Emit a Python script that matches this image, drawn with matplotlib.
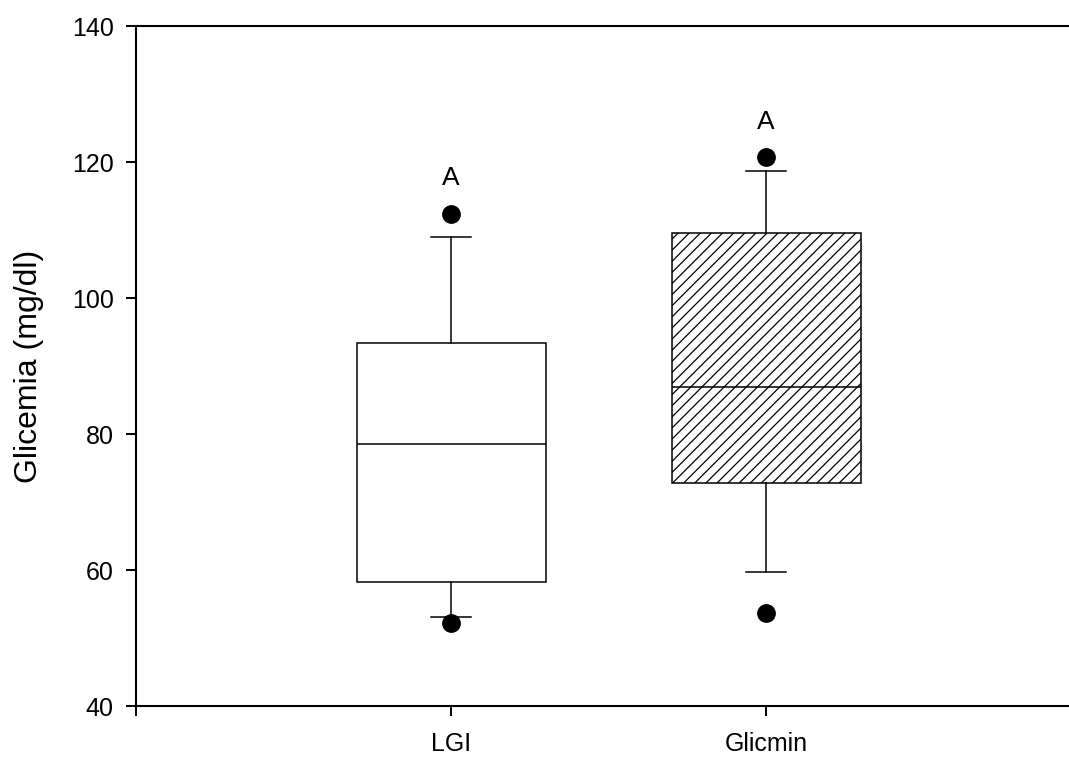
import matplotlib
matplotlib.use("Agg")
import matplotlib.pyplot as plt

plt.rcParams['font.family'] = ['Liberation Sans', 'DejaVu Sans']
plt.rcParams['hatch.linewidth'] = 0.9

# Summary statistics of blood glucose per group (mg/dl)
groups = ["LGI", "Glicmin"]
medians = [78.5, 86.9]
q1s = [58.3, 72.8]
q3s = [93.4, 109.5]
whisker_low = [53.1, 59.7]
whisker_high = [108.9, 118.7]
outliers = [[52.2, 112.4], [53.7, 120.7]]
letters = ["A", "A"]
letter_y = [117.6, 125.9]

fig = plt.figure(figsize=(10.69, 7.57), dpi=100)
ax = fig.add_axes([136 / 1069, 51 / 757, 945 / 1069, 680 / 757])

stats = []
for i, name in enumerate(groups):
    stats.append(dict(label=name, med=medians[i], q1=q1s[i], q3=q3s[i],
                      whislo=whisker_low[i], whishi=whisker_high[i],
                      fliers=outliers[i]))

positions = [1, 2]
bp = ax.bxp(stats, positions=positions, widths=0.6, capwidths=0.125,
            patch_artist=True, showfliers=True,
            boxprops=dict(linewidth=1.1, edgecolor='black', facecolor='white'),
            medianprops=dict(color='black', linewidth=1.1),
            whiskerprops=dict(color='black', linewidth=1.1),
            capprops=dict(color='black', linewidth=1.1),
            flierprops=dict(marker='o', markerfacecolor='black',
                            markeredgecolor='black', markersize=12.5))
bp['boxes'][1].set_hatch('///')

for x, y, t in zip(positions, letter_y, letters):
    ax.text(x, y, t, ha='center', va='center', fontsize=19)

ax.set_xlim(0, 3)
ax.set_ylim(40, 140)
ax.set_yticks([40, 60, 80, 100, 120, 140])
ax.set_xticks([0, 1, 2, 3])
ax.set_xticklabels(['', 'LGI', 'Glicmin', ''])

ax.spines['right'].set_visible(False)
for s in ['left', 'bottom', 'top']:
    ax.spines[s].set_linewidth(1.5)

ax.tick_params(axis='both', direction='out', length=7, width=1.4,
               labelsize=18, pad=9)
ax.tick_params(axis='x', pad=12)

ax.set_ylabel('Glicemia (mg/dl)', fontsize=23, va='center')
ax.yaxis.set_label_coords(-0.113, 0.5)

fig.savefig('out.png', dpi=100)
